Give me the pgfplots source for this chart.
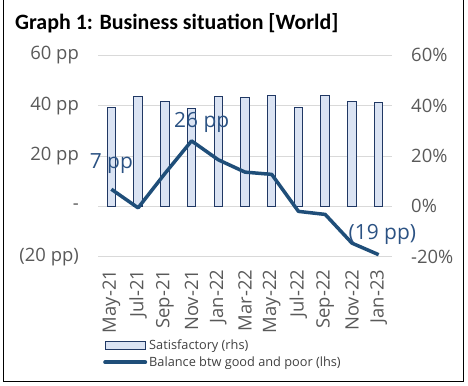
\documentclass[border=0pt]{standalone}
\usepackage{pgfplots}
\pgfplotsset{compat=1.18}
\usepackage{fontspec}
\setmainfont{Open Sans}
\newfontfamily\titlefont{Carlito}
\definecolor{linecol}{HTML}{1F4E79}
\definecolor{labcol}{HTML}{2B5283}
\definecolor{barfill}{HTML}{DAE3F3}
\definecolor{bardraw}{HTML}{203864}
\definecolor{ticktxt}{HTML}{595959}
\definecolor{legtxt}{HTML}{404040}
\definecolor{gridc}{HTML}{D9D9D9}
\pgfplotsset{
  myax/.style={
    at={(98bp,128.3bp)}, anchor=south west,
    width=294bp, height=201.4bp, scale only axis,
    xmin=-0.5, xmax=10.5,
    axis line style={draw=none},
    major tick length=0pt,
    tick style={draw=none},
    clip=false,
  }
}
\begin{document}
\begin{tikzpicture}[x=1bp,y=1bp]
\useasboundingbox (0,0) rectangle (468,385);
\draw[black, line width=1bp] (3.5,385) -- (3.5,4) -- (463.5,4) -- (463.5,385);
\node[anchor=base west, font=\titlefont\bfseries\fontsize{22}{26}\selectfont, inner sep=0] at (15,356) {Graph 1: Business situation [World]};

% Bars: right axis
\begin{axis}[myax,
  ymin=-0.2, ymax=0.6,
  ytick={-0.2,0,0.2,0.4,0.6},
  yticklabels={-20\%,0\%,20\%,40\%,60\%},
  yticklabel pos=right,
  ymajorgrids, grid style={gridc, line width=1bp},
  yticklabel style={font=\fontsize{18.5}{20}\selectfont, text=ticktxt, inner sep=0pt, anchor=west},
  yticklabel shift=19bp,
  xtick={0,...,10},
  xticklabels={May-21,Jul-21,Sep-21,Nov-21,Jan-22,Mar-22,May-22,Jul-22,Sep-22,Nov-22,Jan-23},
  xticklabel style={rotate=90, anchor=east, font=\fontsize{18.5}{20}\selectfont, text=ticktxt, inner sep=0pt},
  xticklabel shift=13bp,
]
\addplot[ybar, bar width=8.5bp, fill=barfill, draw=bardraw, line width=1bp] coordinates {
(0,0.391) (1,0.435) (2,0.415) (3,0.387) (4,0.435) (5,0.431) (6,0.439) (7,0.391) (8,0.441) (9,0.418) (10,0.414)
};
\end{axis}

% Line: left axis
\begin{axis}[myax,
  ymin=-20, ymax=60,
  ytick={-20,0,20,40,60},
  yticklabels={(20 pp),-,20 pp,40 pp,60 pp},
  yticklabel style={font=\fontsize{18.5}{20}\selectfont, text=ticktxt, inner sep=0pt, anchor=east},
  yticklabel shift=19bp,
  xtick=\empty,
  legend style={at={(0.017,-0.40)}, anchor=north west, draw=none, fill=none,
    font=\fontsize{12.8}{15}\selectfont, text=legtxt, inner sep=0pt,
    row sep=2bp, /tikz/every even column/.append style={column sep=8bp}},
  legend cell align=left,
]
\addlegendimage{legend image code/.code={\draw[fill=barfill, draw=bardraw, line width=1bp] (0bp,-4bp) rectangle (40bp,4bp);}}
\addlegendentry{Satisfactory (rhs)}
\addplot[linecol, line width=3.5bp, line join=round, mark=none,
  legend image code/.code={\draw[linecol, line width=4bp, line cap=round] (0bp,0bp) -- (40bp,0bp);}] coordinates {
(0,6.8) (1,-0.6) (2,13) (3,26) (4,18.5) (5,13.6) (6,12.7) (7,-2) (8,-3.2) (9,-14.6) (10,-19.2)
};
\addlegendentry{Balance btw good and poor (lhs)}
\node[font=\fontsize{21}{24}\selectfont, text=labcol, inner sep=0] at (axis cs:0,17.1) {7 pp};
\node[font=\fontsize{21}{24}\selectfont, text=labcol, inner sep=0] at (axis cs:3.38,33.5) {26 pp};
\node[font=\fontsize{21}{24}\selectfont, text=labcol, inner sep=0] at (axis cs:10.14,-11.25) {(19 pp)};
\end{axis}
\end{tikzpicture}
\end{document}
